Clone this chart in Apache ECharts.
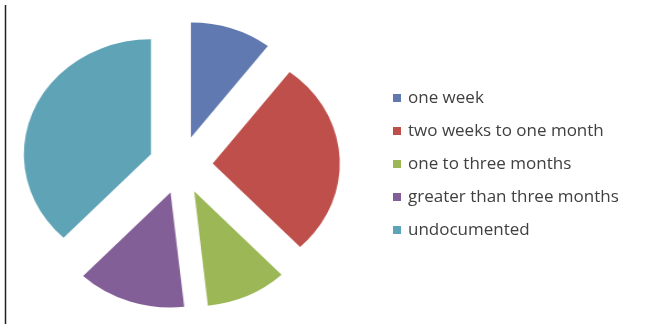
<!DOCTYPE html>
<html>
<head>
<meta charset="utf-8">
<script src="https://cdn.jsdelivr.net/npm/echarts@6/dist/echarts.min.js"></script>
<style>
  html, body { margin: 0; padding: 0; background: #ffffff; }
  #wrap { position: relative; width: 646px; height: 324px; overflow: hidden; background: #fff; }
  #pie { position: absolute; left: 0; top: 0; width: 400px; height: 324px;
         transform-origin: 180.7px 165px; transform: scaleX(1.105); }
  #leg { position: absolute; left: 0; top: 0; width: 646px; height: 324px; }
</style>
</head>
<body>
<div id="wrap">
  <div id="pie"></div>
  <div id="leg"></div>
</div>
<script>
const categories = ['one week', 'two weeks to one month', 'one to three months', 'greater than three months', 'undocumented'];
const values = [3, 8, 3, 4, 11];
const colors = ['#6079B0', '#BE4F4A', '#9CB756', '#835F98', '#5FA3B7'];

const pieData = categories.map((name, i) => ({
  name: name,
  value: values[i],
  selected: true,
  itemStyle: { color: colors[i] }
}));

const pieChart = echarts.init(document.getElementById('pie'), null, { renderer: 'canvas' });
pieChart.setOption({
  animation: false,
  series: [{
    type: 'pie',
    center: [180.7, 165],
    radius: 115,
    startAngle: 90,
    clockwise: true,
    selectedMode: 'multiple',
    selectedOffset: 29,
    label: { show: false },
    labelLine: { show: false },
    emphasis: { disabled: true },
    data: pieData
  }]
});

const legChart = echarts.init(document.getElementById('leg'), null, { renderer: 'canvas' });
legChart.setOption({
  animation: false,
  legend: {
    orient: 'vertical',
    left: 393,
    top: 89,
    padding: 0,
    itemWidth: 8,
    itemHeight: 8,
    itemGap: 15,
    icon: 'rect',
    selectedMode: false,
    textStyle: { fontFamily: 'Open Sans', fontSize: 17, color: '#404040', lineHeight: 18, padding: [0, 0, 0, 2] },
    data: categories
  },
  graphic: [{
    type: 'line',
    shape: { x1: 5.5, y1: 5, x2: 5.5, y2: 324 },
    style: { stroke: '#222222', lineWidth: 1.5 }
  }],
  series: [{
    type: 'pie',
    center: [-500, -500],
    radius: 1,
    silent: true,
    label: { show: false },
    data: categories.map((name, i) => ({ name: name, value: values[i], itemStyle: { color: colors[i] } }))
  }]
});
</script>
</body>
</html>
